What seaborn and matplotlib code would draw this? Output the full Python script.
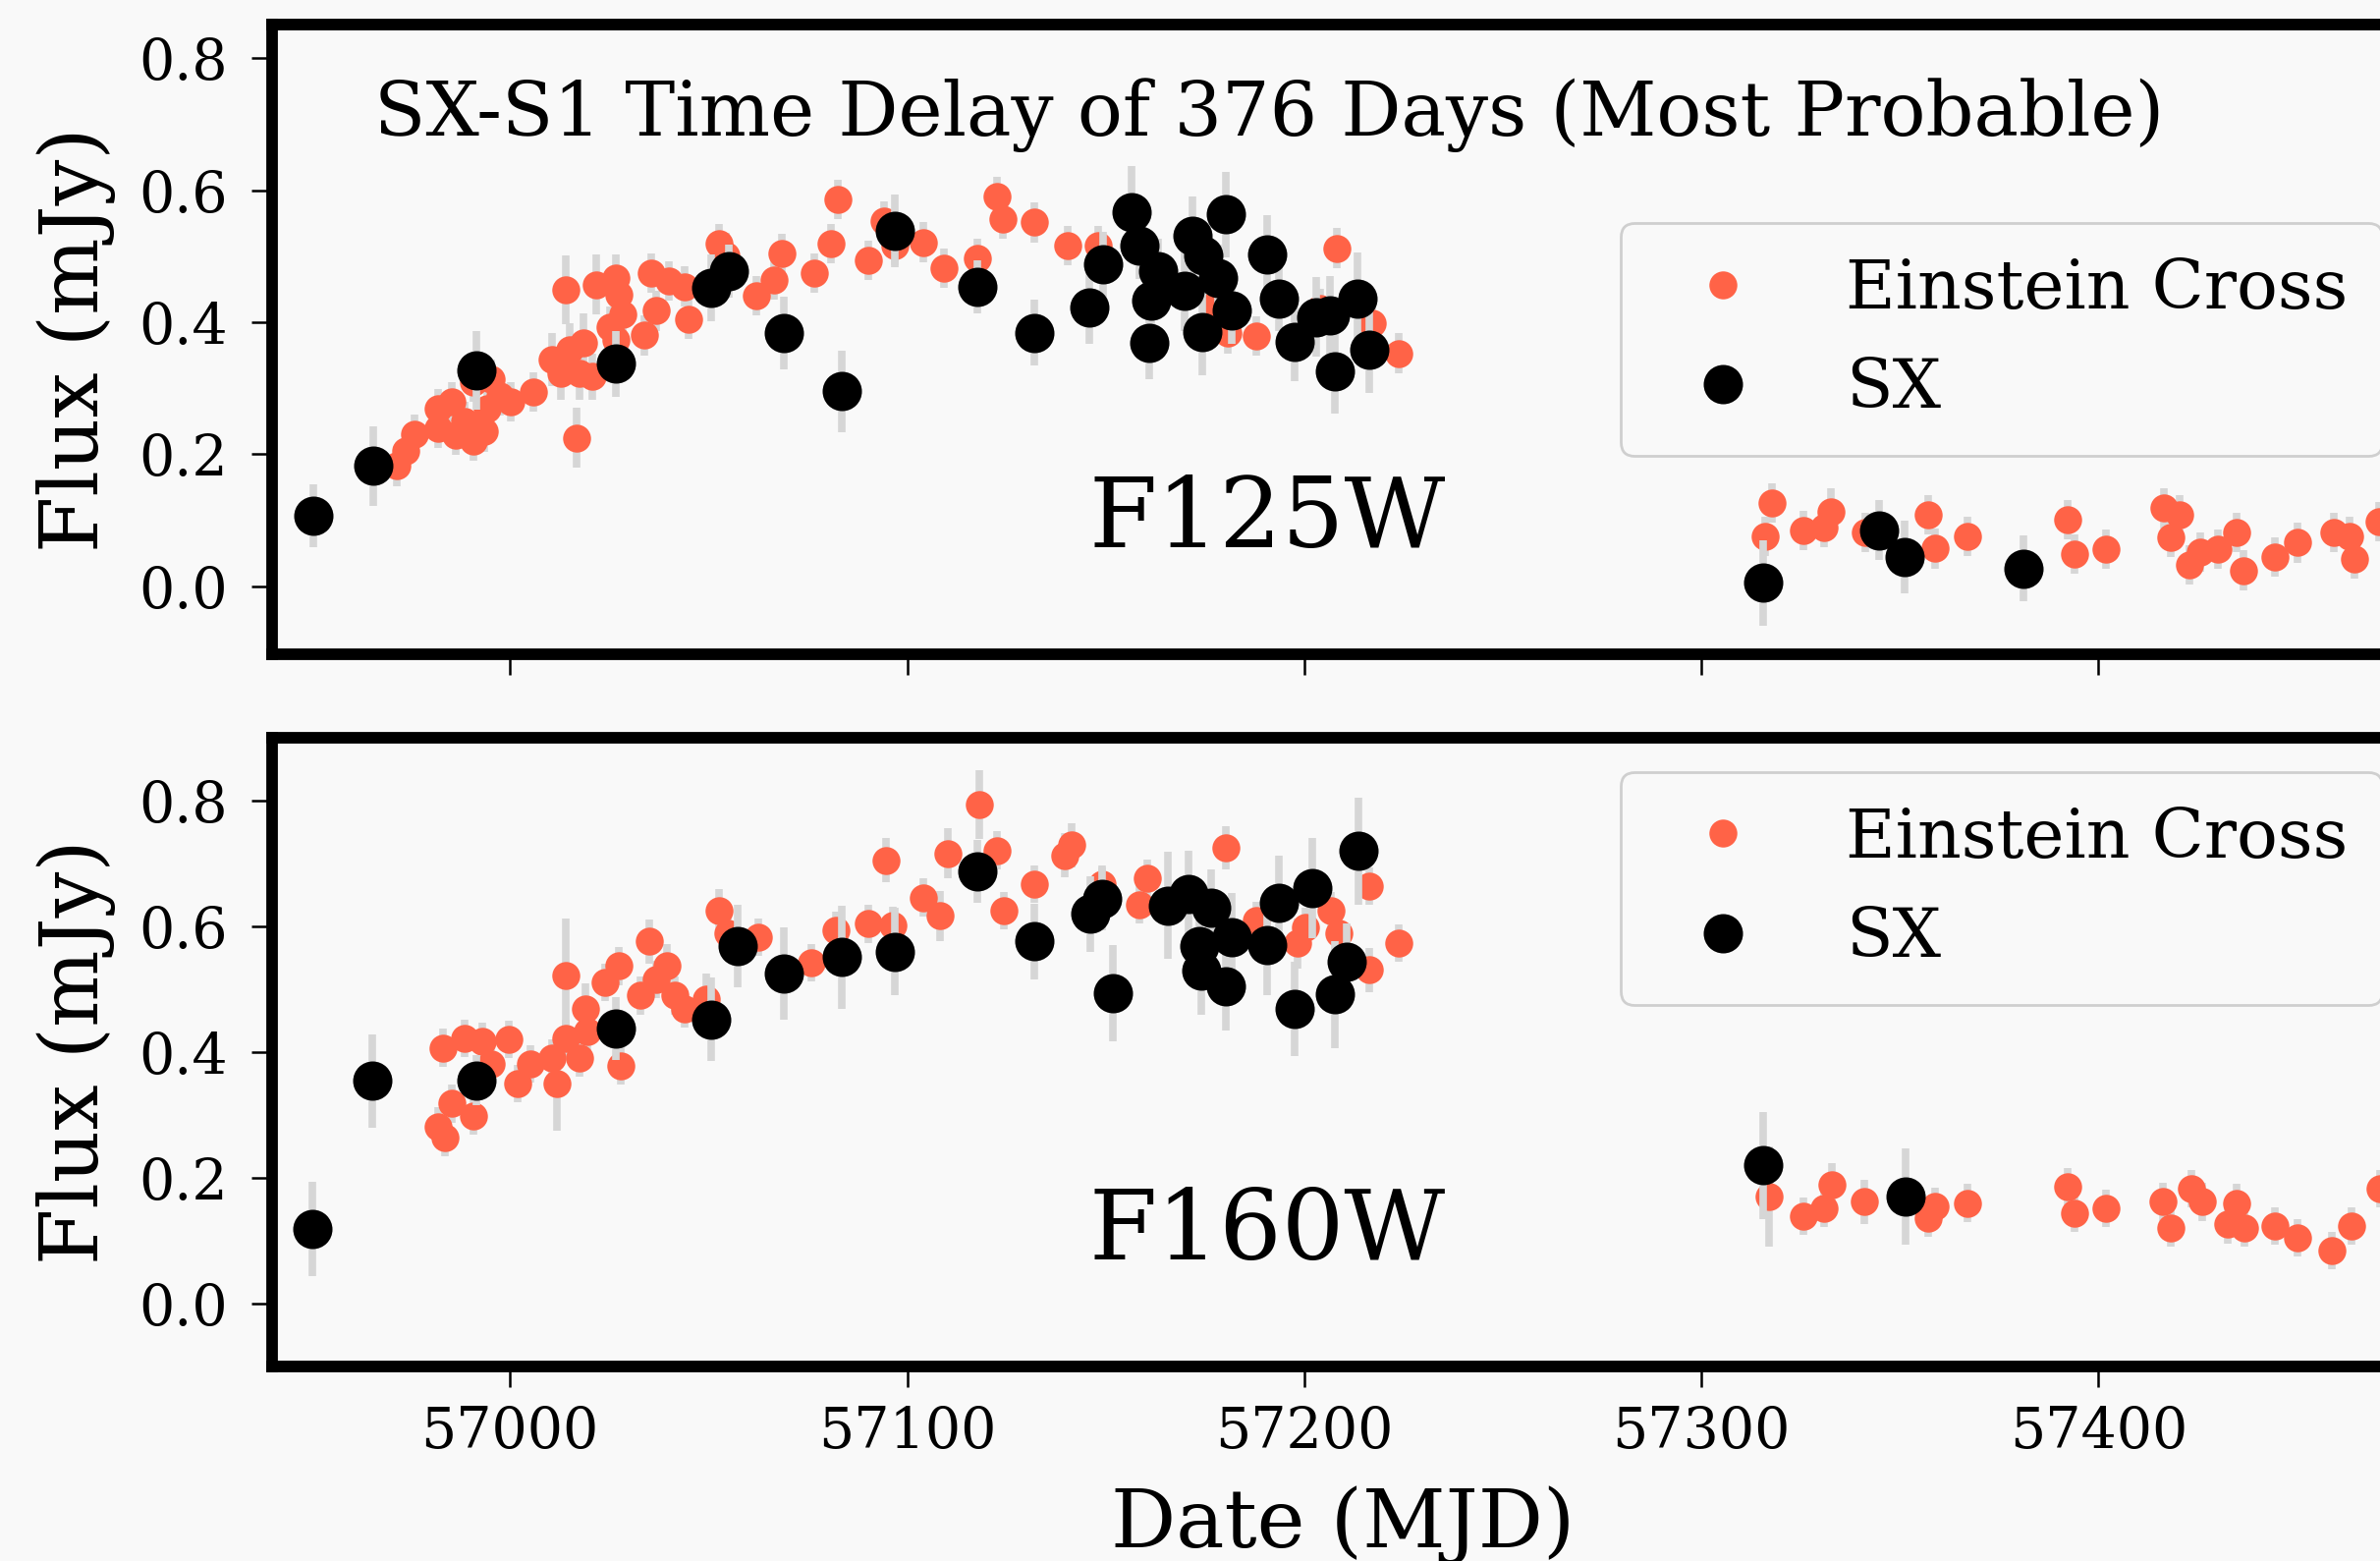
import matplotlib
matplotlib.use("Agg")
import matplotlib.pyplot as plt
import seaborn as sns

# --- light curve values ---
# F125W: Einstein Cross (orange)
ec125_mjd = [56971.5, 56973.7, 56975.9, 56982.0, 56982.0, 56985.3, 56986.4, 56988.6, 56990.8, 56993.6,
             56994.2, 56995.3, 56997.5, 56990.8, 57000.2, 57005.8, 57010.7, 57015.1, 57018.5, 57017.4,
             57012.9, 57020.7, 57014.0, 57016.8, 57021.8, 57026.7, 57027.3, 57028.4, 57025.1, 57026.7,
             57033.9, 57036.7, 57035.6, 57040.0, 57043.9, 57045.0, 57052.7, 57054.4, 57062.1, 57066.5,
             57068.4, 57076.5, 57080.9, 57082.5, 57090.3, 57094.1, 57096.9, 57104.1, 57109.3, 57117.8,
             57122.6, 57124.2, 57132.0, 57140.5, 57148.1, 57177.5, 57180.8, 57187.9, 57204.0, 57208.2,
             57217.2, 57223.9,
             57317.8, 57316.1, 57325.8, 57331.0, 57332.6, 57341.2, 57357.2, 57358.9, 57366.9, 57392.2,
             57394.0, 57401.9, 57416.5, 57420.5, 57418.2, 57422.8, 57425.6, 57430.2, 57434.7, 57436.4,
             57444.4, 57450.1, 57459.3, 57463.2, 57464.4, 57470.7]
ec125_flux = [0.182, 0.205, 0.230, 0.269, 0.239, 0.279, 0.229, 0.249, 0.220, 0.234,
              0.269, 0.314, 0.289, 0.309, 0.279, 0.294, 0.343, 0.358, 0.368, 0.323,
              0.323, 0.318, 0.449, 0.225, 0.457, 0.467, 0.442, 0.412, 0.393, 0.373,
              0.380, 0.417, 0.474, 0.462, 0.454, 0.405, 0.519, 0.501, 0.440, 0.464,
              0.504, 0.474, 0.519, 0.586, 0.494, 0.553, 0.516, 0.521, 0.482, 0.497,
              0.590, 0.556, 0.551, 0.516, 0.516, 0.427, 0.383, 0.379, 0.420, 0.512,
              0.398, 0.353,
              0.126, 0.076, 0.084, 0.089, 0.113, 0.081, 0.108, 0.057, 0.076, 0.101,
              0.049, 0.056, 0.118, 0.108, 0.074, 0.032, 0.052, 0.056, 0.081, 0.024,
              0.044, 0.066, 0.081, 0.076, 0.042, 0.098]
ec125_err = [0.030, 0.030, 0.030, 0.030, 0.030, 0.030, 0.030, 0.030, 0.030, 0.030,
             0.030, 0.030, 0.030, 0.030, 0.030, 0.030, 0.040, 0.040, 0.045, 0.040,
             0.040, 0.035, 0.052, 0.045, 0.045, 0.035, 0.030, 0.030, 0.030, 0.030,
             0.030, 0.030, 0.030, 0.030, 0.030, 0.030, 0.030, 0.035, 0.030, 0.030,
             0.030, 0.030, 0.030, 0.030, 0.030, 0.030, 0.030, 0.030, 0.030, 0.030,
             0.030, 0.030, 0.030, 0.030, 0.030, 0.030, 0.030, 0.030, 0.030, 0.030,
             0.030, 0.030,
             0.030, 0.030, 0.030, 0.030, 0.035, 0.030, 0.030, 0.030, 0.030, 0.030,
             0.030, 0.030, 0.030, 0.030, 0.030, 0.030, 0.030, 0.030, 0.030, 0.030,
             0.030, 0.030, 0.030, 0.030, 0.030, 0.030]

# F125W: SX (black)
sx125_mjd = [56950.5, 56965.5, 56991.6, 57026.6, 57050.7, 57055.0, 57069.0, 57083.6, 57097.0, 57117.8,
             57132.0, 57145.8, 57149.3, 57156.5, 57158.5, 57161.4, 57161.0, 57163.3, 57169.9, 57171.8,
             57174.6, 57174.4, 57178.4, 57180.3, 57181.7, 57190.7, 57193.6, 57197.5, 57203.0, 57206.5,
             57207.6, 57213.5, 57216.5, 57315.5, 57344.8, 57351.2, 57381.1]
sx125_flux = [0.107, 0.182, 0.327, 0.337, 0.452, 0.477, 0.384, 0.295, 0.538, 0.453,
              0.384, 0.422, 0.487, 0.567, 0.516, 0.432, 0.368, 0.477, 0.447, 0.531,
              0.501, 0.385, 0.467, 0.563, 0.417, 0.502, 0.436, 0.370, 0.408, 0.410,
              0.326, 0.436, 0.358, 0.005, 0.085, 0.044, 0.027]
sx125_err = [0.048, 0.060, 0.060, 0.050, 0.050, 0.040, 0.055, 0.062, 0.055, 0.040,
             0.050, 0.055, 0.050, 0.070, 0.050, 0.050, 0.055, 0.050, 0.060, 0.060,
             0.050, 0.065, 0.050, 0.065, 0.050, 0.060, 0.050, 0.060, 0.060, 0.060,
             0.065, 0.070, 0.065, 0.065, 0.045, 0.055, 0.050]

# F160W: Einstein Cross (orange)
ec160_mjd = [56982.0, 56983.7, 56985.3, 56990.8, 56983.1, 56988.6, 56993.1, 56999.7, 56995.3, 57001.9,
             57005.2, 57010.7, 57011.8, 57014.0, 57017.4, 57019.6, 57019.0, 57014.0, 57024.0, 57027.3,
             57027.8, 57032.8, 57035.0, 57039.4, 57036.7, 57041.6, 57043.9, 57049.4, 57052.7, 57054.9,
             57062.6, 57075.9, 57082.0, 57090.3, 57094.7, 57096.3, 57104.1, 57108.4, 57110.2, 57118.3,
             57122.6, 57124.4, 57132.0, 57139.6, 57141.5, 57149.1, 57160.4, 57158.5, 57180.3, 57187.9,
             57200.2, 57198.3, 57206.8, 57208.7, 57216.3, 57216.3, 57223.9,
             57317.0, 57325.8, 57331.0, 57332.9, 57341.0, 57358.9, 57357.2, 57366.9, 57392.2, 57394.0,
             57401.9, 57416.3, 57418.2, 57423.3, 57426.2, 57434.7, 57432.5, 57436.8, 57444.4, 57450.1,
             57458.7, 57463.8, 57471.0]
ec160_flux = [0.282, 0.264, 0.318, 0.298, 0.407, 0.422, 0.417, 0.420, 0.381, 0.350,
              0.381, 0.391, 0.350, 0.422, 0.391, 0.433, 0.469, 0.522, 0.511, 0.537,
              0.378, 0.490, 0.576, 0.537, 0.516, 0.490, 0.469, 0.485, 0.625, 0.589,
              0.583, 0.542, 0.594, 0.604, 0.705, 0.602, 0.646, 0.617, 0.716, 0.794,
              0.721, 0.625, 0.667, 0.713, 0.729, 0.667, 0.677, 0.635, 0.725, 0.609,
              0.599, 0.573, 0.625, 0.589, 0.664, 0.531, 0.573,
              0.170, 0.139, 0.152, 0.189, 0.162, 0.155, 0.136, 0.160, 0.186, 0.144,
              0.152, 0.162, 0.121, 0.183, 0.162, 0.160, 0.126, 0.121, 0.123, 0.105,
              0.084, 0.123, 0.183]
ec160_err = [0.030, 0.030, 0.030, 0.030, 0.030, 0.030, 0.030, 0.030, 0.030, 0.030,
             0.030, 0.030, 0.075, 0.030, 0.030, 0.040, 0.040, 0.090, 0.030, 0.030,
             0.030, 0.030, 0.035, 0.035, 0.030, 0.030, 0.030, 0.040, 0.035, 0.030,
             0.030, 0.030, 0.030, 0.030, 0.035, 0.030, 0.030, 0.040, 0.040, 0.055,
             0.030, 0.030, 0.030, 0.035, 0.035, 0.030, 0.030, 0.030, 0.035, 0.030,
             0.030, 0.040, 0.030, 0.030, 0.030, 0.035, 0.030,
             0.080, 0.030, 0.030, 0.035, 0.035, 0.030, 0.030, 0.030, 0.030, 0.030,
             0.030, 0.030, 0.030, 0.030, 0.030, 0.030, 0.030, 0.030, 0.030, 0.030,
             0.030, 0.030, 0.030]

# F160W: SX (black)
sx160_mjd = [56950.3, 56965.4, 56991.6, 57026.7, 57050.7, 57057.3, 57069.0, 57083.6, 57097.0, 57117.8,
             57132.0, 57146.2, 57149.1, 57151.7, 57165.6, 57170.8, 57173.7, 57174.2, 57176.5, 57180.3,
             57181.7, 57190.7, 57193.6, 57197.5, 57202.1, 57207.6, 57210.6, 57213.6, 57315.5, 57351.5]
sx160_flux = [0.118, 0.354, 0.355, 0.437, 0.452, 0.569, 0.525, 0.551, 0.560, 0.688,
              0.576, 0.620, 0.643, 0.494, 0.633, 0.651, 0.568, 0.529, 0.630, 0.505,
              0.583, 0.570, 0.638, 0.469, 0.661, 0.492, 0.544, 0.720, 0.220, 0.170]
sx160_err = [0.075, 0.074, 0.040, 0.050, 0.066, 0.066, 0.073, 0.082, 0.070, 0.050,
             0.060, 0.060, 0.050, 0.077, 0.085, 0.070, 0.060, 0.070, 0.060, 0.070,
             0.070, 0.080, 0.075, 0.075, 0.080, 0.085, 0.060, 0.085, 0.085, 0.077]

BG = "#f9f9f9"
ERR_GREY = "#d6d6d6"
EC_COLOR = "tomato"

sns.set_style("ticks")
plt.rcParams["font.family"] = ["DejaVu Serif"]
plt.rcParams["figure.facecolor"] = BG
plt.rcParams["axes.facecolor"] = BG
plt.rcParams["text.color"] = "black"
plt.rcParams["axes.labelcolor"] = "black"
plt.rcParams["xtick.color"] = "black"
plt.rcParams["ytick.color"] = "black"


def draw_panel(ax, ec_mjd, ec_flux, ec_err, sx_mjd, sx_flux, sx_err, band, ylim, legend_loc):
    ax.errorbar(ec_mjd, ec_flux, yerr=ec_err, fmt="none", ecolor=ERR_GREY,
                elinewidth=5.5, capsize=0, zorder=1)
    sns.scatterplot(x=ec_mjd, y=ec_flux, ax=ax, color=EC_COLOR, s=420,
                    linewidth=0, label="Einstein Cross", zorder=2)
    ax.errorbar(sx_mjd, sx_flux, yerr=sx_err, fmt="none", ecolor=ERR_GREY,
                elinewidth=5.5, capsize=0, zorder=3)
    sns.scatterplot(x=sx_mjd, y=sx_flux, ax=ax, color="black", s=830,
                    linewidth=0, label="SX", zorder=4)

    ax.set_xlim(56940, 57480)
    ax.set_ylim(*ylim)
    ax.set_yticks([0.0, 0.2, 0.4, 0.6, 0.8])
    ax.set_yticklabels(["0.0", "0.2", "0.4", "0.6", "0.8"])
    ax.set_xticks([57000, 57100, 57200, 57300, 57400])
    for side in ["left", "right", "top", "bottom"]:
        ax.spines[side].set_visible(True)
        ax.spines[side].set_linewidth(8.5)
        ax.spines[side].set_color("black")
    ax.tick_params(axis="both", direction="out", length=15, width=1.8,
                   labelsize=41, color="black", labelcolor="black")
    ax.tick_params(axis="y", pad=17)
    ax.tick_params(axis="x", pad=13)

    ax.set_ylabel("Flux (mJy)", fontsize=59.5, va="baseline", color="black")
    ax.yaxis.set_label_coords(-0.081, 0.5)

    ax.text(0.4642, 0.1697, band, transform=ax.transAxes, fontsize=72,
            ha="center", va="baseline", color="black")

    leg = ax.legend(loc=legend_loc, fontsize=50, scatteryoffsets=[0.5],
                    frameon=True, fancybox=True, framealpha=1, borderpad=0.5)
    leg.get_frame().set_facecolor(BG)
    leg.get_frame().set_edgecolor("#cfcfcf")
    leg.get_frame().set_linewidth(2.0)
    for t in leg.get_texts():
        t.set_color("black")
    return ax


fig = plt.figure(figsize=(24.23, 15.89), dpi=100)
ax_top = fig.add_axes([0.11418, 0.58087, 0.901, 0.4031])
ax_bot = fig.add_axes([0.11418, 0.12461, 0.901, 0.40277])

draw_panel(ax_top, ec125_mjd, ec125_flux, ec125_err, sx125_mjd, sx125_flux, sx125_err,
           "F125W", (-0.103, 0.85), "center right")
draw_panel(ax_bot, ec160_mjd, ec160_flux, ec160_err, sx160_mjd, sx160_flux, sx160_err,
           "F160W", (-0.1, 0.9), "upper right")

ax_top.tick_params(axis="x", labelbottom=False)
ax_top.set_xlabel("")
ax_top.text(0.048, 0.8244, "SX-S1 Time Delay of 376 Days (Most Probable)",
            transform=ax_top.transAxes, fontsize=55, ha="left", va="baseline",
            color="black")

ax_bot.set_xlabel("Date (MJD)", fontsize=59.5, va="baseline", color="black")
ax_bot.xaxis.set_label_coords(0.4995, -0.2875)

fig.savefig("out.png", dpi=100, facecolor=BG)
